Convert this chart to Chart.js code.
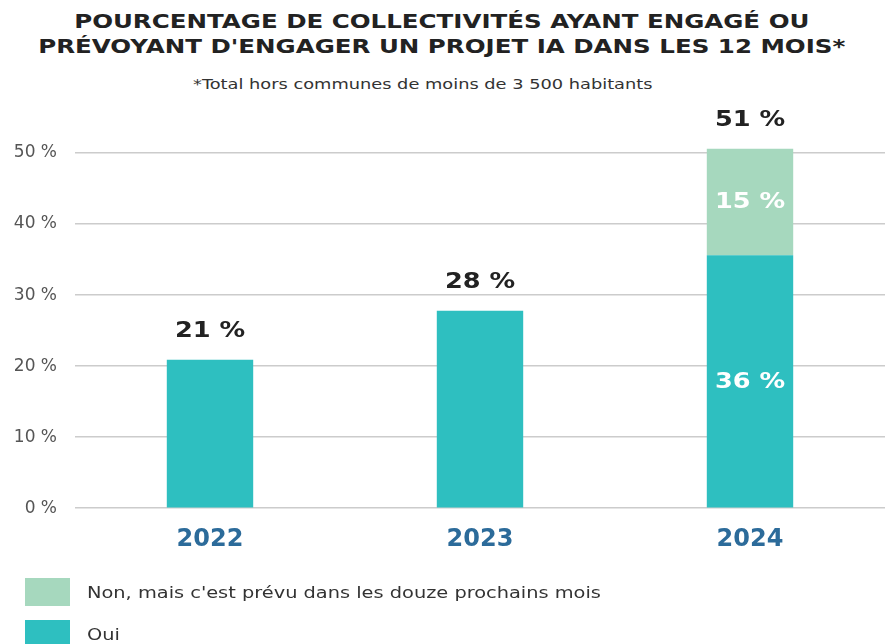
<!DOCTYPE html>
<html>
<head>
<meta charset="utf-8">
<script src="https://cdn.jsdelivr.net/npm/chart.js@4"></script>
<style>
  body { margin: 0; background: #fff; font-family: "DejaVu Sans", sans-serif; }
  #wrap { position: relative; width: 885px; height: 644px; overflow: hidden; }
  #title { position: absolute; top: 9px; left: 0; width: 885px; text-align: center;
           font-weight: bold; font-size: 19px; line-height: 25px; color: #222;
           transform: scaleX(1.29); transform-origin: 445px 0; }
  #note { position: absolute; top: 76px; left: 193px; font-size: 14px; color: #333;
          transform: scaleX(1.27); transform-origin: 0 0; }
  #box { position: absolute; top: 100px; left: 0; width: 885px; height: 487px; }
  #legend { position: absolute; top: 578px; left: 25px; }
  .item { display: flex; align-items: center; height: 28px; margin-bottom: 14px;
          font-size: 16px; color: #333; }
  .item span { display: inline-block; transform: scaleX(1.21); transform-origin: 0 50%; }
  .swatch { width: 45px; height: 28px; margin-right: 17px; }
</style>
</head>
<body>
<div id="wrap">
  <div id="title">POURCENTAGE DE COLLECTIVITÉS AYANT ENGAGÉ OU<br>PRÉVOYANT D'ENGAGER UN PROJET IA DANS LES 12 MOIS*</div>
  <div id="note">*Total hors communes de moins de 3 500 habitants</div>
  <div id="box"><canvas id="chartCanvas"></canvas></div>
  <div id="legend"></div>
</div>
<script>
// values
const years = ['2022', '2023', '2024'];
const oui = [20.9, 27.8, 35.6];
const prevu = [0, 0, 15.0];
const totalLabels = ['21 %', '28 %', '51 %'];
const ouiLabels = ['', '', '36 %'];
const prevuLabels = ['', '', '15 %'];
const yTicks = [0, 10, 20, 30, 40, 50];

const teal = '#2ebfc0';
const mint = '#a6d8be';

// stretched text, the reference type is wide
function wideText(ctx, text, x, y) {
    ctx.save();
    ctx.translate(x, y);
    ctx.scale(1.22, 1);
    ctx.fillText(text, 0, 0);
    ctx.restore();
}

// bar value labels: totals above the stack, parts inside in white
const barLabels = {
    id: 'barLabels',
    afterDatasetsDraw(chart) {
        const ctx = chart.ctx;
        ctx.save();
        ctx.textAlign = 'center';
        ctx.textBaseline = 'middle';
        ctx.font = 'bold 21px "DejaVu Sans"';
        const inner = [ouiLabels, prevuLabels];
        chart.data.datasets.forEach((ds, di) => {
            chart.getDatasetMeta(di).data.forEach((bar, i) => {
                if (!inner[di][i]) return;
                ctx.fillStyle = '#fff';
                wideText(ctx, inner[di][i], bar.x, (bar.y + bar.base) / 2 + 1);
            });
        });
        const ySc = chart.scales.y;
        years.forEach((y, i) => {
            const bar = chart.getDatasetMeta(0).data[i];
            const top = ySc.getPixelForValue(oui[i] + prevu[i]);
            ctx.fillStyle = '#222';
            wideText(ctx, totalLabels[i], bar.x, top - 28);
        });
        ctx.restore();
    }
};

const chart = new Chart(document.getElementById('chartCanvas'), {
    type: 'bar',
    data: {
        labels: years,
        datasets: [
            { label: 'Oui', data: oui, backgroundColor: teal, clip: false },
            { label: "Non, mais c'est prévu dans les douze prochains mois", data: prevu, backgroundColor: mint, clip: false }
        ]
    },
    options: {
        responsive: true,
        maintainAspectRatio: false,
        animation: false,
        layout: { padding: { top: 53, right: 0, bottom: 24, left: 0 } },
        datasets: { bar: { categoryPercentage: 1, barPercentage: 0.32 } },
        plugins: { legend: { display: false }, tooltip: { enabled: false } },
        scales: {
            x: {
                stacked: true,
                grid: { display: false },
                border: { display: false },
                ticks: { color: '#2c6b9a', font: { family: 'DejaVu Sans', size: 24, weight: 'bold' }, padding: 9 }
            },
            y: {
                stacked: true,
                min: 0,
                max: 50,
                afterBuildTicks: scale => { scale.ticks = yTicks.map(v => ({ value: v })); },
                afterFit: scale => { scale.width = 75; },
                grid: { color: '#cccccc', lineWidth: 1.5, drawTicks: false },
                border: { display: false },
                ticks: { color: '#555', font: { family: 'DejaVu Sans', size: 17 }, padding: 18, callback: v => v + ' %' }
            }
        }
    },
    plugins: [barLabels]
});

// legend below, same order as the reference
const legend = document.getElementById('legend');
[chart.data.datasets[1], chart.data.datasets[0]].forEach(ds => {
    legend.innerHTML += `<div class="item"><div class="swatch" style="background:${ds.backgroundColor}"></div><span>${ds.label}</span></div>`;
});
</script>
</body>
</html>
